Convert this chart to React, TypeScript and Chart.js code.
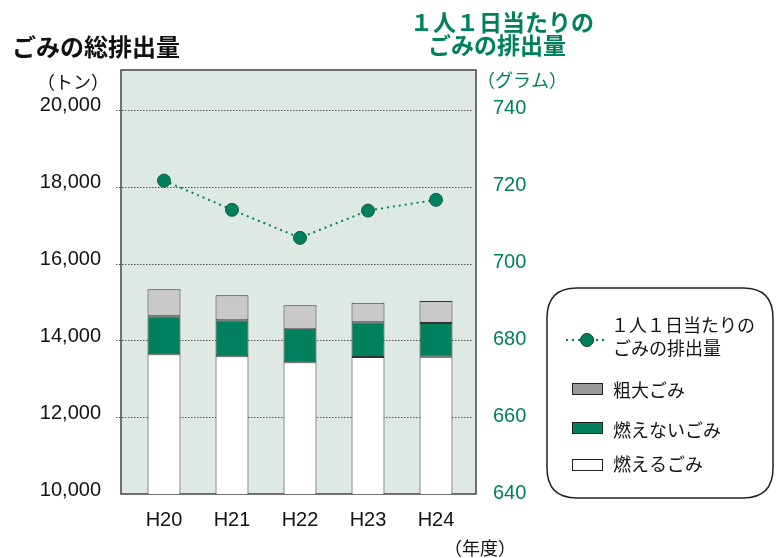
import React, { useEffect, useRef } from "react";
import { Chart, registerables } from "chart.js";

Chart.register(...registerables);

const categories = ["H20", "H21", "H22", "H23", "H24"];
const burnable = [13638, 13586, 13430, 13568, 13576];
const nonBurnable = [990, 937, 875, 903, 877];
const bulky = [703, 651, 609, 511, 573];
const perCapita = [721.6, 714.0, 706.7, 713.8, 716.6];
const leftTicks = [10000, 12000, 14000, 16000, 18000, 20000];
const rightTicks = [640, 660, 680, 700, 720, 740];

const GREEN = "#00805c";
const BG = "#dfe9e3";
const GRAY_BAR = "#c9c9c9";
const GRAY_LEG = "#9a9a9a";
const JP = '"Noto Sans CJK JP", "Noto Sans", sans-serif';
const LATIN = '"Liberation Sans", Arial, sans-serif';

const decorPlugin = {
  id: "decor",
  beforeDatasetsDraw(chart: any) {
    const { ctx, chartArea: a } = chart;
    const fl = a.left - 9;
    const fr = a.right + 6;
    ctx.save();
    ctx.fillStyle = BG;
    ctx.fillRect(fl, a.top, fr - fl, a.bottom - a.top);
    ctx.strokeStyle = "#555";
    ctx.lineWidth = 1;
    ctx.setLineDash([1.5, 1.5]);
    for (const v of leftTicks) {
      if (v === leftTicks[0]) continue;
      const y = Math.round(chart.scales.y.getPixelForValue(v)) + 0.5;
      ctx.beginPath();
      ctx.moveTo(a.left - 14, y);
      ctx.lineTo(a.right + 2, y);
      ctx.stroke();
    }
    ctx.setLineDash([]);
    ctx.strokeStyle = "#444";
    ctx.lineWidth = 1.5;
    ctx.strokeRect(fl, a.top, fr - fl, a.bottom - a.top);
    ctx.restore();
  },
  afterDraw(chart: any) {
    const { ctx } = chart;
    ctx.save();
    ctx.textBaseline = "middle";
    // left title
    ctx.fillStyle = "#111";
    ctx.font = `bold 24px ${JP}`;
    ctx.textAlign = "left";
    ctx.fillText("ごみの総排出量", 12, 47);
    ctx.font = `18px ${JP}`;
    ctx.textAlign = "center";
    ctx.fillText("（トン）", 73, 82);
    // right title
    ctx.fillStyle = GREEN;
    ctx.font = `bold 23px ${JP}`;
    ctx.fillText("１人１日当たりの", 502, 22);
    ctx.fillText("ごみの排出量", 497, 45);
    ctx.font = `18px ${JP}`;
    ctx.fillText("（グラム）", 522, 80);
    // x unit
    ctx.fillStyle = "#111";
    ctx.fillText("（年度）", 480, 548);

    // legend box
    const lx = 547, ly = 288, lw = 226, lh = 210, r = 30;
    ctx.beginPath();
    ctx.moveTo(lx + r, ly);
    ctx.lineTo(lx + lw - r, ly);
    ctx.quadraticCurveTo(lx + lw, ly, lx + lw, ly + r);
    ctx.lineTo(lx + lw, ly + lh - r);
    ctx.quadraticCurveTo(lx + lw, ly + lh, lx + lw - r, ly + lh);
    ctx.lineTo(lx + r, ly + lh);
    ctx.quadraticCurveTo(lx, ly + lh, lx, ly + lh - r);
    ctx.lineTo(lx, ly + r);
    ctx.quadraticCurveTo(lx, ly, lx + r, ly);
    ctx.closePath();
    ctx.fillStyle = "#fff";
    ctx.fill();
    ctx.strokeStyle = "#222";
    ctx.lineWidth = 1.5;
    ctx.stroke();

    // line symbol
    ctx.strokeStyle = GREEN;
    ctx.lineWidth = 2;
    ctx.setLineDash([2, 4]);
    ctx.beginPath();
    ctx.moveTo(566, 340);
    ctx.lineTo(608, 340);
    ctx.stroke();
    ctx.setLineDash([]);
    ctx.beginPath();
    ctx.arc(587, 340, 6.5, 0, Math.PI * 2);
    ctx.fillStyle = GREEN;
    ctx.fill();
    ctx.strokeStyle = "#0b3d2c";
    ctx.lineWidth = 1;
    ctx.stroke();

    // boxes
    const boxes: [number, string][] = [
      [389, GRAY_LEG],
      [428, GREEN],
      [465, "#fff"],
    ];
    for (const [cy, col] of boxes) {
      ctx.fillStyle = col;
      ctx.fillRect(572, cy - 6, 31, 12);
      ctx.strokeStyle = "#222";
      ctx.lineWidth = 1;
      ctx.strokeRect(572.5, cy - 5.5, 30, 11);
    }

    ctx.fillStyle = "#111";
    ctx.font = `18px ${JP}`;
    ctx.textAlign = "left";
    ctx.fillText("１人１日当たりの", 611, 325);
    ctx.fillText("ごみの排出量", 613, 348);
    ctx.fillText("粗大ごみ", 613, 390);
    ctx.fillText("燃えないごみ", 613, 430);
    ctx.fillText("燃えるごみ", 613, 464);
    ctx.restore();
  },
};

export default function App() {
  const ref = useRef<HTMLCanvasElement | null>(null);
  useEffect(() => {
    if (!ref.current) return;
    const barCommon = {
      type: "bar" as const,
      stack: "total",
      yAxisID: "y",
      borderColor: "#333",
      borderWidth: 1,
      borderSkipped: false,
      categoryPercentage: 1,
      barPercentage: 0.485,
      order: 2,
    };
    const chart = new Chart(ref.current, {
      type: "bar",
      data: {
        labels: categories,
        datasets: [
          {
            type: "line",
            label: "１人１日当たりのごみの排出量",
            data: perCapita,
            yAxisID: "y2",
            borderColor: GREEN,
            borderWidth: 2,
            borderDash: [2, 4],
            pointRadius: 6.5,
            pointBackgroundColor: GREEN,
            pointBorderColor: "#0b5f44",
            pointBorderWidth: 1,
            order: 0,
          } as any,
          { ...barCommon, label: "燃えるごみ", data: burnable, backgroundColor: "#ffffff" },
          { ...barCommon, label: "燃えないごみ", data: nonBurnable, backgroundColor: GREEN },
          { ...barCommon, label: "粗大ごみ", data: bulky, backgroundColor: GRAY_BAR },
        ],
      },
      options: {
        animation: false,
        responsive: true,
        maintainAspectRatio: false,
        layout: { padding: { top: 70, left: 0, right: 0, bottom: 0 } },
        plugins: { legend: { display: false }, tooltip: { enabled: false } },
        scales: {
          x: {
            stacked: true,
            offset: true,
            grid: { display: false, drawTicks: false },
            border: { display: false },
            ticks: { font: { family: LATIN, size: 20 }, color: "#111", padding: 14 },
            afterFit: (s: any) => {
              s.height = 64;
            },
          },
          y: {
            position: "left",
            stacked: true,
            min: 10000,
            max: 21040,
            grid: { display: false, drawTicks: false },
            border: { display: false },
            afterBuildTicks: (s: any) => {
              s.ticks = leftTicks.map((v) => ({ value: v }));
            },
            ticks: {
              font: { family: LATIN, size: 20 },
              color: "#111",
              padding: 29,
              labelOffset: -4,
              callback: (v: any) => Number(v).toLocaleString("en-US"),
            },
            afterFit: (s: any) => {
              s.width = 130;
            },
          },
          y2: {
            position: "right",
            min: 640,
            max: 750.4,
            grid: { display: false, drawTicks: false },
            border: { display: false },
            afterBuildTicks: (s: any) => {
              s.ticks = rightTicks.map((v) => ({ value: v }));
            },
            ticks: {
              font: { family: LATIN, size: 20 },
              color: GREEN,
              padding: 23,
              labelOffset: -1,
              callback: (v: any) => String(v),
            },
            afterFit: (s: any) => {
              s.width = 311;
            },
          },
        },
      },
      plugins: [decorPlugin],
    });
    return () => chart.destroy();
  }, []);
  return (
    <div style={{ position: "absolute", left: 0, top: 0, width: 781, height: 558, background: "#fff" }}>
      <canvas ref={ref} />
    </div>
  );
}
